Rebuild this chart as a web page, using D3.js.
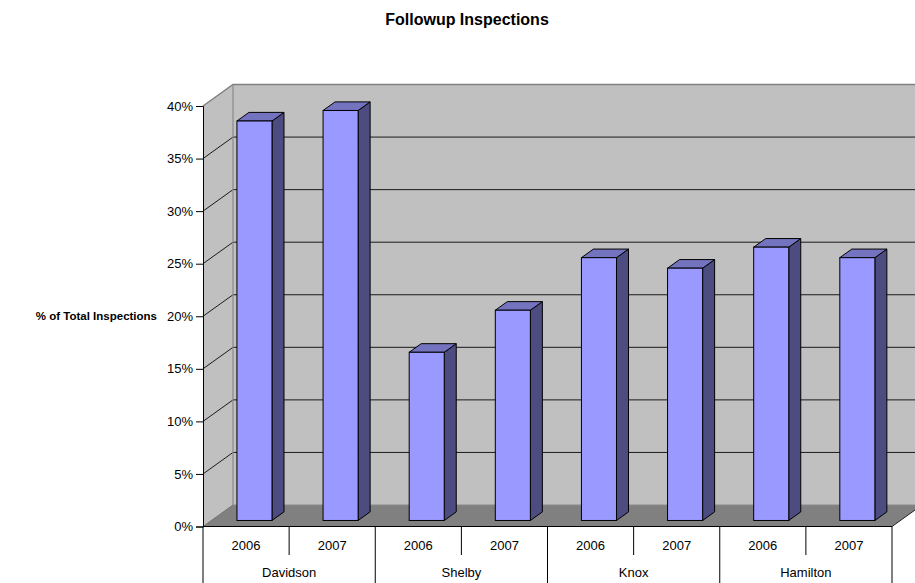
<!DOCTYPE html>
<html>
<head>
<meta charset="utf-8">
<script src="https://cdn.jsdelivr.net/npm/d3@7"></script>
<style>
  html, body { margin: 0; padding: 0; background: #fff; }
  svg { display: block; font-family: "Liberation Sans", Arial, sans-serif; }
</style>
</head>
<body>
<svg id="chart" width="915" height="583"></svg>
<script>
// Chart data
const counties = ["Davidson", "Shelby", "Knox", "Hamilton"];
const years = ["2006", "2007"];
const followupShare = [0.38, 0.39, 0.16, 0.20, 0.25, 0.24, 0.26, 0.25]; // county x year, in order
const yTicks = [0, 0.05, 0.10, 0.15, 0.20, 0.25, 0.30, 0.35, 0.40];
const chartTitle = "Followup Inspections";
const yAxisTitle = "% of Total Inspections";

// Flatten into one row per bar
const rows = [];
counties.forEach((c, ci) => years.forEach((yr, yi) => {
  rows.push({ county: c, year: yr, key: c + "|" + yr, value: followupShare[ci * years.length + yi] });
}));

// Layout of the 3D box
const left = 203, right = 892, floorY = 526.5, topY = 106;
const depthX = 30, depthY = -21.5;           // offset from front plane to back wall
const barFront = 0.28, barDepth = 0.40;      // bar position inside the depth (fraction)

const svg = d3.select("#chart");

const x = d3.scaleBand()
  .domain(rows.map(d => d.key))
  .range([left, right])
  .paddingInner(0.593)
  .paddingOuter(0.2965);

const y = d3.scaleLinear().domain([0, 0.4]).range([floorY, topY]);

const step = x.step();

// Walls and floor
const g = svg.append("g");
const backTop = topY + depthY, backBottom = floorY + depthY;
g.append("rect")
  .attr("x", left + depthX).attr("y", backTop)
  .attr("width", right - left).attr("height", backBottom - backTop)
  .attr("fill", "#c0c0c0");
g.append("polygon")
  .attr("points", [[left, topY], [left + depthX, backTop], [left + depthX, backBottom], [left, floorY]].join(" "))
  .attr("fill", "#c0c0c0");
g.append("polygon")
  .attr("points", [[left, floorY], [left + depthX, backBottom], [right + depthX, backBottom], [right, floorY]].join(" "))
  .attr("fill", "#808080");

// Gridlines on back wall and side wall
const grid = yTicks.filter(t => t > 0 && t < 0.4);
grid.forEach(t => {
  const yf = y(t), yb = y(t) + depthY;
  g.append("line").attr("x1", left + depthX).attr("x2", right + depthX)
    .attr("y1", yb).attr("y2", yb).attr("stroke", "#1a1a1a").attr("stroke-width", 1);
  g.append("line").attr("x1", left).attr("x2", left + depthX)
    .attr("y1", yf).attr("y2", yb).attr("stroke", "#1a1a1a").attr("stroke-width", 1);
});

// Wall borders
g.append("path")
  .attr("d", `M${left},${topY}L${left + depthX},${backTop}L${right + depthX},${backTop}`)
  .attr("fill", "none").attr("stroke", "#808080").attr("stroke-width", 1.5);
g.append("path")
  .attr("d", `M${left + depthX},${backTop}L${left + depthX},${backBottom}L${right + depthX},${backBottom}`)
  .attr("fill", "none").attr("stroke", "#8a8a8a").attr("stroke-width", 1.2);
g.append("line")
  .attr("x1", left).attr("y1", floorY).attr("x2", left + depthX).attr("y2", backBottom)
  .attr("stroke", "#707070").attr("stroke-width", 1);
g.append("line")
  .attr("x1", right).attr("y1", floorY).attr("x2", right + depthX).attr("y2", backBottom)
  .attr("stroke", "#222").attr("stroke-width", 1);

// Bars (front, top, side faces)
const fx = barFront * depthX, fy = barFront * depthY;
const bx = barDepth * depthX, by = barDepth * depthY;
const bars = svg.append("g").selectAll("g").data(rows).join("g");
bars.each(function (d) {
  const sel = d3.select(this);
  const x0 = x(d.key) + fx, x1 = x0 + x.bandwidth();
  const yTop = y(d.value) + fy, yBot = y(0) + fy;
  sel.append("polygon")
    .attr("points", [[x1, yTop], [x1 + bx, yTop + by], [x1 + bx, yBot + by], [x1, yBot]].join(" "))
    .attr("fill", "#4c4c80").attr("stroke", "#000").attr("stroke-width", 1).attr("stroke-linejoin", "round");
  sel.append("polygon")
    .attr("points", [[x0, yTop], [x0 + bx, yTop + by], [x1 + bx, yTop + by], [x1, yTop]].join(" "))
    .attr("fill", "#7373bf").attr("stroke", "#000").attr("stroke-width", 1).attr("stroke-linejoin", "round");
  sel.append("rect")
    .attr("x", x0).attr("y", yTop).attr("width", x1 - x0).attr("height", yBot - yTop)
    .attr("fill", "#9999ff").attr("stroke", "#000").attr("stroke-width", 1);
});

// Value axis
const yAxis = svg.append("g")
  .attr("transform", `translate(${left},0)`)
  .call(d3.axisLeft(y).tickValues(yTicks).tickFormat(d3.format(".0%")).tickSize(7).tickPadding(3));
yAxis.select(".domain").attr("stroke", "#000");
yAxis.selectAll(".tick line").attr("stroke", "#000");
yAxis.selectAll("text").attr("font-size", 13).attr("fill", "#000")
  .attr("font-family", "'Liberation Sans', Arial, sans-serif");

// Category table below the floor
const cat = svg.append("g");
cat.append("line").attr("x1", left).attr("x2", right).attr("y1", floorY).attr("y2", floorY)
  .attr("stroke", "#000");
counties.forEach((c, ci) => {
  const groupLeft = left + ci * step * years.length;
  cat.append("line").attr("x1", groupLeft).attr("x2", groupLeft)
    .attr("y1", floorY).attr("y2", 583).attr("stroke", "#000");
  const mid = groupLeft + step;
  cat.append("line").attr("x1", mid).attr("x2", mid)
    .attr("y1", floorY).attr("y2", 555).attr("stroke", "#000");
  cat.append("text").attr("x", groupLeft + step).attr("y", 574)
    .attr("text-anchor", "middle").attr("dominant-baseline", "middle")
    .attr("font-size", 13).text(c);
});
cat.append("line").attr("x1", right).attr("x2", right)
  .attr("y1", floorY).attr("y2", 583).attr("stroke", "#000");
rows.forEach(d => {
  cat.append("text").attr("x", x(d.key) + x.bandwidth() / 2).attr("y", 547)
    .attr("text-anchor", "middle").attr("dominant-baseline", "middle")
    .attr("font-size", 13).text(d.year);
});

// Titles
svg.append("text").attr("x", 467).attr("y", 25)
  .attr("text-anchor", "middle").attr("font-weight", "bold").attr("font-size", 16)
  .text(chartTitle);
svg.append("text").attr("x", 157).attr("y", 317)
  .attr("text-anchor", "end").attr("dominant-baseline", "middle")
  .attr("font-weight", "bold").attr("font-size", 11.5)
  .text(yAxisTitle);
</script>
</body>
</html>
